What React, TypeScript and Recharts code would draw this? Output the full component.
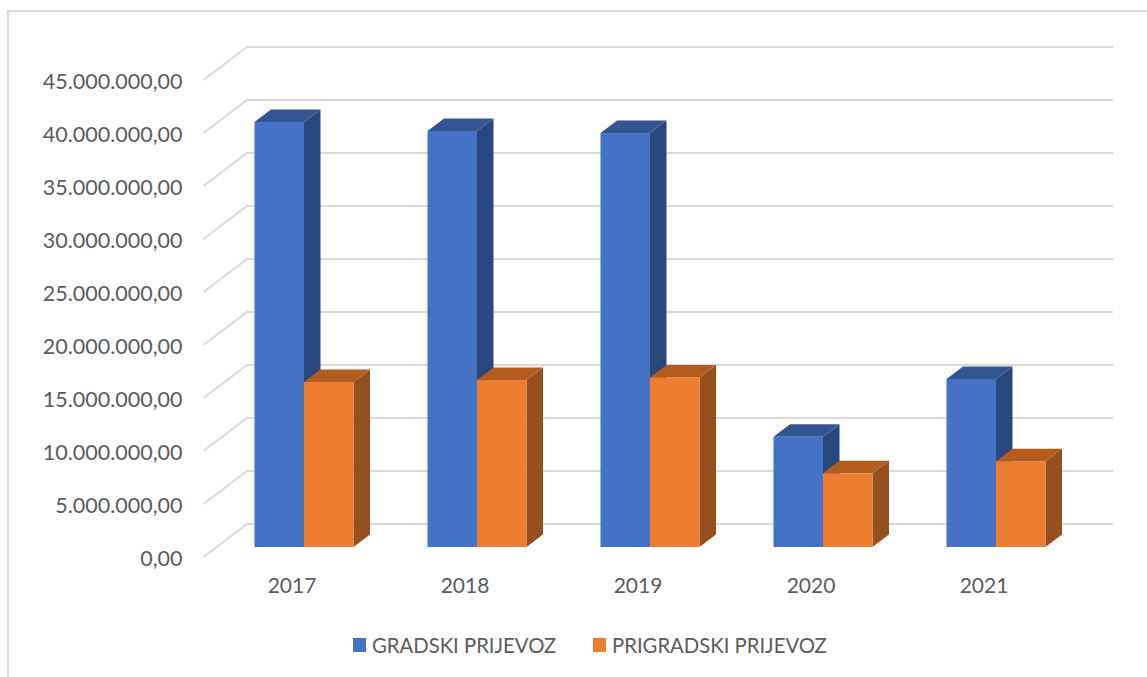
import React from 'react';
import { BarChart, Bar, XAxis, YAxis, CartesianGrid, Legend } from 'recharts';

const years = ['2017', '2018', '2019', '2020', '2021'];
const gradski = [40100000, 39250000, 39050000, 10400000, 15850000];
const prigradski = [15570000, 15750000, 16000000, 6950000, 8100000];
const yTicks = [0, 5000000, 10000000, 15000000, 20000000, 25000000, 30000000, 35000000, 40000000, 45000000];

const chartData = years.map((year, i) => ({
  year,
  gradski: gradski[i],
  prigradski: prigradski[i],
}));

const FONT = 'Lato, "Open Sans", sans-serif';
const TEXT_COLOR = '#5c5c5c';
const DEPTH_X = 16.5;
const DEPTH_Y = 12.5;

const formatMoney = (v: number) =>
  v.toLocaleString('de-DE', { minimumFractionDigits: 2, maximumFractionDigits: 2 });

// fake 3D column: side and top faces behind the front rect
const Column3D = (colors: { front: string; top: string; side: string }) => (props: any) => {
  const { x, y, width, height } = props;
  const r = x + width;
  const b = y + height;
  return (
    <g>
      <polygon
        points={`${r},${y} ${r + DEPTH_X},${y - DEPTH_Y} ${r + DEPTH_X},${b - DEPTH_Y} ${r},${b}`}
        fill={colors.side}
      />
      <polygon
        points={`${x},${y} ${x + DEPTH_X},${y - DEPTH_Y} ${r + DEPTH_X},${y - DEPTH_Y} ${r},${y}`}
        fill={colors.top}
      />
      <rect x={x} y={y} width={width} height={height} fill={colors.front} />
    </g>
  );
};

// gridline with the diagonal floor piece on the left
const GridLine3D = (props: any) => {
  const { x1, y1, x2 } = props;
  return (
    <polyline
      points={`${x1 - 14},${y1 + 10} ${x1 + 29.5},${y1 - 23} ${x2 + 30.5},${y1 - 23}`}
      fill="none"
      stroke="#DADADA"
      strokeWidth={2}
    />
  );
};

const YTick = (props: any) => {
  const { x, y, payload } = props;
  return (
    <text x={x - 3} y={y + 19} textAnchor="end" fontFamily={FONT} fontSize={21.5} fill={TEXT_COLOR}>
      {formatMoney(payload.value)}
    </text>
  );
};

const XTick = (props: any) => {
  const { x, y, payload } = props;
  return (
    <text x={x - 12} y={y + 38} textAnchor="middle" fontFamily={FONT} fontSize={21} fill={TEXT_COLOR}>
      {payload.value}
    </text>
  );
};

const LegendRow = ({ payload }: any) => (
  <div style={{ position: 'relative', height: 28, fontFamily: FONT, fontSize: 20.3, color: TEXT_COLOR }}>
    {(payload || []).map((item: any, i: number) => (
      <div
        key={item.value}
        style={{ position: 'absolute', left: i === 0 ? 0 : 240, top: 0, display: 'flex', alignItems: 'center', height: 28, whiteSpace: 'nowrap' }}
      >
        <span style={{ width: 13, height: 14, background: item.color, marginRight: 6, display: 'inline-block' }} />
        <span>{item.value}</span>
      </div>
    ))}
  </div>
);

export default function App() {
  return (
    <div style={{ position: 'absolute', left: 0, top: 0, width: 1147, height: 677, background: '#fff', overflow: 'hidden' }}>
      <div
        style={{ position: 'absolute', left: 7, top: 10, right: -4, bottom: -4, borderLeft: '2px solid #DADADA', borderTop: '2px solid #DADADA' }}
      />
      <BarChart
        width={1147}
        height={677}
        data={chartData}
        barSize={49.5}
        barGap={0}
        margin={{ top: 70, right: 64.5, bottom: 100, left: 0 }}
        style={{ position: 'absolute', left: 0, top: 0 }}
      >
        <CartesianGrid vertical={false} horizontal={GridLine3D} />
        <XAxis dataKey="year" axisLine={false} tickLine={false} height={30} tick={XTick} interval={0} />
        <YAxis
          width={217.5}
          domain={[0, 45000000]}
          ticks={yTicks}
          interval={0}
          axisLine={false}
          tickLine={false}
          tickMargin={26}
          tick={YTick}
        />
        <Bar
          dataKey="gradski"
          name="GRADSKI PRIJEVOZ"
          fill="#4472C4"
          isAnimationActive={false}
          shape={Column3D({ front: '#4472C4', top: '#335593', side: '#294880' })}
        />
        <Bar
          dataKey="prigradski"
          name="PRIGRADSKI PRIJEVOZ"
          fill="#ED7D31"
          isAnimationActive={false}
          shape={Column3D({ front: '#ED7D31', top: '#B35C1E', side: '#96501E' })}
        />
        <Legend
          layout="horizontal"
          align="center"
          verticalAlign="middle"
          content={LegendRow}
          wrapperStyle={{ left: 353, top: 631, width: 520, height: 28 }}
        />
      </BarChart>
    </div>
  );
}
